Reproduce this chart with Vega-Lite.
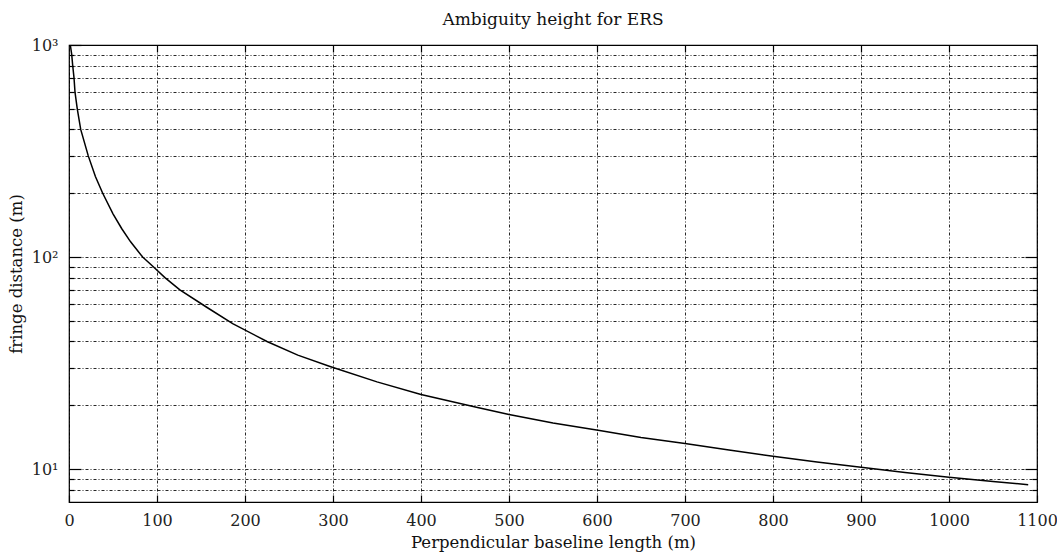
{
  "$schema": "https://vega.github.io/schema/vega-lite/v6.json",
  "width": 968,
  "height": 457,
  "autosize": "none",
  "padding": {"left": 69, "top": 45, "right": 20, "bottom": 54},
  "background": "white",
  "title": {"text": "Ambiguity height for ERS", "font": "DejaVu Serif", "fontSize": 17, "fontWeight": "normal", "color": "#111", "offset": 8},
  "config": {
    "view": {"stroke": "#000", "strokeWidth": 1.2},
    "axis": {"labelFont": "DejaVu Serif", "titleFont": "DejaVu Serif", "labelColor": "#222", "titleColor": "#111", "titleFontWeight": "normal", "labelFontSize": 16, "titleFontSize": 16.5, "tickColor": "#000", "tickWidth": 1.2}
  },
  "data": {"values": [
    {"x": 1.5, "y": 1000}, {"x": 3.1, "y": 900}, {"x": 4.2, "y": 800}, {"x": 5.7, "y": 700},
    {"x": 6.8, "y": 600}, {"x": 9.4, "y": 500}, {"x": 13.3, "y": 400}, {"x": 21.9, "y": 300},
    {"x": 30, "y": 240}, {"x": 38.3, "y": 200}, {"x": 50, "y": 160}, {"x": 60, "y": 136},
    {"x": 70, "y": 118}, {"x": 83.7, "y": 100}, {"x": 95.8, "y": 90}, {"x": 109, "y": 80},
    {"x": 126, "y": 70}, {"x": 156.5, "y": 58}, {"x": 186, "y": 48.5}, {"x": 225, "y": 40},
    {"x": 260, "y": 34.5}, {"x": 296.6, "y": 30.5}, {"x": 350, "y": 25.8}, {"x": 400, "y": 22.5},
    {"x": 463, "y": 19.6}, {"x": 500, "y": 18.1}, {"x": 550, "y": 16.5}, {"x": 603, "y": 15.2},
    {"x": 650, "y": 14.1}, {"x": 700, "y": 13.2}, {"x": 750, "y": 12.3}, {"x": 800, "y": 11.5},
    {"x": 850, "y": 10.8}, {"x": 900, "y": 10.2}, {"x": 950, "y": 9.65}, {"x": 1000, "y": 9.17},
    {"x": 1050, "y": 8.75}, {"x": 1090, "y": 8.45}
  ]},
  "layer": [
    {
      "mark": {"type": "line", "color": "#000", "strokeWidth": 1.5, "clip": true},
      "encoding": {
        "x": {"field": "x", "type": "quantitative",
          "scale": {"domain": [0, 1100], "nice": false, "zero": false},
          "axis": {"orient": "bottom", "title": "Perpendicular baseline length (m)", "format": "d", "values": [0,100,200,300,400,500,600,700,800,900,1000,1100],
            "grid": true, "gridColor": "#000", "gridDash": [1, 2, 3, 2], "gridWidth": 1, "gridOpacity": 0.85,
            "ticks": true, "tickSize": -7, "domain": false, "labelPadding": 17, "titlePadding": 6, "labelFlush": false}},
        "y": {"field": "y", "type": "quantitative",
          "scale": {"type": "log", "domain": [7, 1000], "nice": false},
          "axis": {"orient": "left", "title": "fringe distance (m)", "values": [8,9,10,20,30,40,50,60,70,80,90,100,200,300,400,500,600,700,800,900,1000],
            "labelExpr": "datum.value == 10 ? '10¹' : datum.value == 100 ? '10²' : datum.value == 1000 ? '10³' : ''",
            "grid": true, "gridColor": "#000", "gridDash": [3, 2, 1, 2], "gridWidth": 1, "gridOpacity": 0.85,
            "ticks": true, "tickSize": {"condition": {"test": "datum.value == 10 || datum.value == 100 || datum.value == 1000", "value": -12}, "value": -5},
            "domain": false, "labelPadding": 23, "titlePadding": 7, "labelFlush": false}}
      }
    },
    {
      "mark": {"type": "line", "opacity": 0},
      "encoding": {
        "x": {"field": "x", "type": "quantitative",
          "axis": {"orient": "top", "title": null, "labels": false, "grid": false, "domain": false, "values": [100,200,300,400,500,600,700,800,900,1000],
            "ticks": true, "tickSize": -7}},
        "y": {"field": "y", "type": "quantitative",
          "axis": {"orient": "right", "title": null, "labels": false, "grid": false, "domain": false, "values": [8,9,10,20,30,40,50,60,70,80,90,100,200,300,400,500,600,700,800,900],
            "ticks": true, "tickSize": {"condition": {"test": "datum.value == 10 || datum.value == 100", "value": -12}, "value": -5}}}
      }
    }
  ],
  "resolve": {"axis": {"x": "independent", "y": "independent"}}
}
